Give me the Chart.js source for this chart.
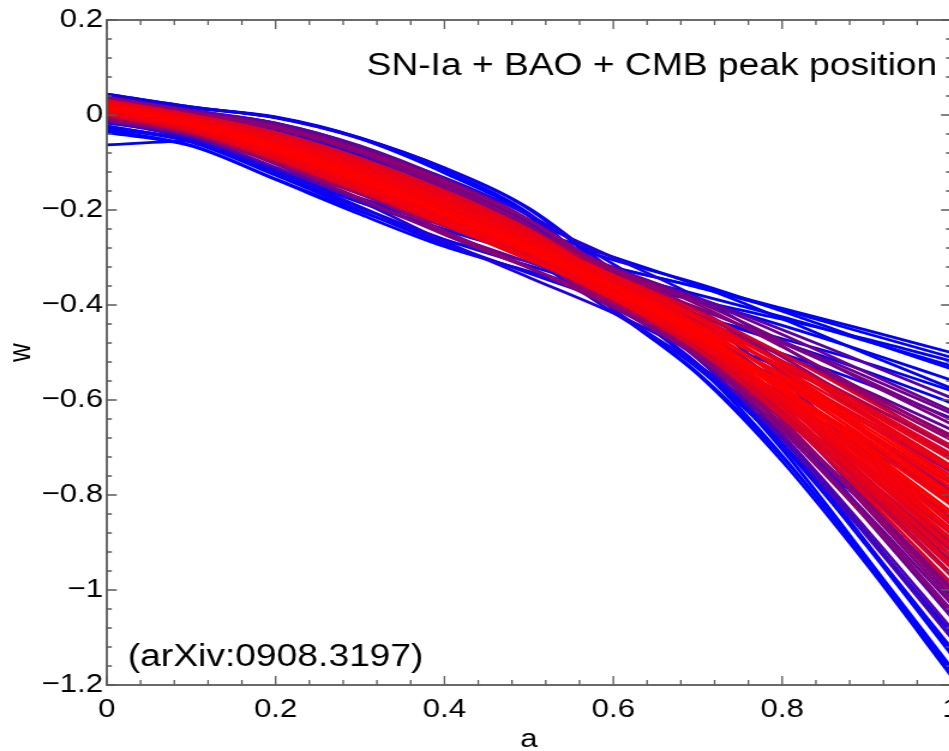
<!DOCTYPE html>
<html>
<head>
<meta charset="utf-8">
<script src="https://cdn.jsdelivr.net/npm/chart.js@4/dist/chart.umd.min.js"></script>
<style>
html,body{margin:0;padding:0;background:#fff;overflow:hidden;width:949px;height:751px;}
#wrap{width:800px;height:751px;transform:scaleX(1.2);transform-origin:0 0;}
canvas{display:block;}
</style>
</head>
<body>
<div id="wrap"><canvas id="c" width="800" height="751"></canvas></div>
<script>
// ---- data ----
const aGrid = [0, 0.1, 0.2, 0.3, 0.4, 0.5, 0.6, 0.7, 0.8, 0.9, 1.0];
const xTickValues = [0, 0.2, 0.4, 0.6, 0.8, 1];
const yTickValues = [-1.2, -1, -0.8, -0.6, -0.4, -0.2, 0, 0.2];
const xTitle = 'a';
const yTitle = 'w';
const dataLabel = 'SN-Ia + BAO + CMB peak position';
const sourceLabel = '(arXiv:0908.3197)';

// most likely reconstructions (red)
const redCurves = [
  [0.018, -0.018, -0.07, -0.135, -0.207, -0.283, -0.365, -0.458, -0.565, -0.68, -0.80],
  [0.02, -0.015, -0.064, -0.127, -0.199, -0.276, -0.366, -0.463, -0.578, -0.705, -0.837],
  [0.023, -0.011, -0.057, -0.118, -0.19, -0.269, -0.366, -0.468, -0.592, -0.73, -0.874],
  [0.025, -0.008, -0.051, -0.11, -0.182, -0.262, -0.367, -0.474, -0.605, -0.755, -0.911],
  [0.028, -0.005, -0.044, -0.101, -0.173, -0.255, -0.367, -0.479, -0.619, -0.78, -0.948],
  [0.014, -0.022, -0.075, -0.139, -0.209, -0.282, -0.361, -0.449, -0.55, -0.658, -0.771],
  [0.009, -0.025, -0.079, -0.143, -0.211, -0.281, -0.356, -0.439, -0.534, -0.636, -0.742],
  [0.005, -0.029, -0.084, -0.147, -0.213, -0.28, -0.352, -0.43, -0.519, -0.614, -0.713],
  [0.023, -0.011, -0.059, -0.119, -0.187, -0.263, -0.347, -0.442, -0.554, -0.673, -0.796],
  [0.013, -0.025, -0.081, -0.151, -0.227, -0.303, -0.383, -0.474, -0.576, -0.687, -0.805],
  [0.028, -0.004, -0.046, -0.102, -0.17, -0.249, -0.348, -0.452, -0.581, -0.723, -0.87],
  [0.018, -0.018, -0.068, -0.134, -0.21, -0.289, -0.384, -0.484, -0.603, -0.737, -0.879],
  [0.014, -0.018, -0.068, -0.127, -0.191, -0.261, -0.338, -0.423, -0.523, -0.629, -0.738],
  [0.004, -0.032, -0.09, -0.159, -0.231, -0.301, -0.374, -0.455, -0.545, -0.643, -0.747],
  [0.023, -0.012, -0.055, -0.117, -0.193, -0.275, -0.385, -0.495, -0.63, -0.787, -0.953],
  [0.031, 0.0, -0.037, -0.091, -0.159, -0.241, -0.351, -0.464, -0.604, -0.763, -0.926],
  [0.006, -0.026, -0.078, -0.139, -0.201, -0.266, -0.337, -0.414, -0.503, -0.599, -0.696],
  [0.023, -0.011, -0.058, -0.118, -0.188, -0.265, -0.356, -0.454, -0.572, -0.701, -0.835],
  [0.017, -0.019, -0.072, -0.138, -0.212, -0.289, -0.374, -0.467, -0.574, -0.695, -0.821],
  [0.023, -0.011, -0.057, -0.117, -0.188, -0.266, -0.36, -0.461, -0.583, -0.716, -0.854],
  [0.021, -0.014, -0.06, -0.123, -0.197, -0.277, -0.376, -0.48, -0.607, -0.747, -0.895],
  [0.025, -0.008, -0.05, -0.109, -0.182, -0.263, -0.371, -0.481, -0.617, -0.77, -0.931],
  [0.018, -0.017, -0.067, -0.13, -0.199, -0.274, -0.355, -0.446, -0.552, -0.666, -0.784],
  [0.009, -0.026, -0.082, -0.148, -0.219, -0.291, -0.366, -0.451, -0.547, -0.65, -0.759],
  [0.009, -0.025, -0.078, -0.14, -0.205, -0.274, -0.348, -0.429, -0.523, -0.623, -0.726],
  [0.03, -0.002, -0.038, -0.093, -0.165, -0.248, -0.368, -0.484, -0.632, -0.805, -0.985],
  [0.025, -0.008, -0.048, -0.107, -0.182, -0.265, -0.379, -0.493, -0.636, -0.798, -0.97],
  [0.025, -0.009, -0.054, -0.113, -0.18, -0.257, -0.346, -0.442, -0.557, -0.684, -0.814],
  [0.014, -0.023, -0.077, -0.146, -0.223, -0.301, -0.388, -0.482, -0.592, -0.713, -0.843],
  [0.03, -0.002, -0.041, -0.096, -0.164, -0.244, -0.351, -0.46, -0.595, -0.749, -0.907],
  [0.02, -0.013, -0.061, -0.12, -0.184, -0.257, -0.339, -0.429, -0.536, -0.65, -0.766],
  [0.008, -0.029, -0.087, -0.157, -0.232, -0.305, -0.381, -0.466, -0.562, -0.666, -0.776],
  [0.026, -0.007, -0.049, -0.107, -0.177, -0.257, -0.358, -0.465, -0.596, -0.741, -0.891],
  [0.0, -0.035, -0.094, -0.161, -0.231, -0.298, -0.368, -0.444, -0.529, -0.62, -0.717],
  [0.031, 0.0, -0.037, -0.091, -0.16, -0.242, -0.355, -0.469, -0.612, -0.776, -0.945],
  [0.018, -0.018, -0.068, -0.133, -0.208, -0.286, -0.378, -0.477, -0.595, -0.723, -0.859]
];
const redLevel = [1.0, 1.0, 0.97, 0.93, 0.88, 1.0, 0.95, 0.9, 0.95, 0.95, 0.92, 0.92, 0.9, 0.9, 0.85, 0.88, 0.86, 0.97, 0.98, 0.97, 0.93, 0.92, 0.98, 0.95, 0.93, 0.84, 0.85,
                  0.95, 0.93, 0.9, 0.95, 0.9, 0.95, 0.86, 0.86, 0.95];

// intermediate reconstructions (purple)
const purpleCurves = [
  [0.034, 0.003, -0.028, -0.08, -0.152, -0.238, -0.368, -0.493, -0.655, -0.844, -1.041],
  [0.025, -0.007, -0.046, -0.105, -0.183, -0.268, -0.392, -0.51, -0.661, -0.839, -1.028],
  [0.037, 0.008, -0.022, -0.071, -0.138, -0.222, -0.348, -0.47, -0.629, -0.811, -0.999],
  [-0.007, -0.037, -0.095, -0.157, -0.218, -0.278, -0.34, -0.406, -0.48, -0.559, -0.641],
  [0.002, -0.028, -0.08, -0.138, -0.195, -0.256, -0.323, -0.393, -0.475, -0.563, -0.65],
  [-0.013, -0.046, -0.11, -0.18, -0.249, -0.31, -0.371, -0.435, -0.505, -0.581, -0.662],
  [0.016, -0.02, -0.07, -0.137, -0.218, -0.299, -0.403, -0.509, -0.637, -0.782, -0.939],
  [0.036, 0.005, -0.028, -0.078, -0.141, -0.222, -0.331, -0.443, -0.583, -0.742, -0.902],
  [-0.002, -0.039, -0.102, -0.175, -0.252, -0.322, -0.392, -0.471, -0.557, -0.65, -0.751],
  [0.022, -0.01, -0.054, -0.11, -0.17, -0.241, -0.322, -0.412, -0.519, -0.634, -0.748],
  [0.008, -0.03, -0.089, -0.162, -0.244, -0.321, -0.406, -0.498, -0.603, -0.72, -0.847],
  [0.031, 0.0, -0.036, -0.09, -0.16, -0.243, -0.359, -0.476, -0.623, -0.791, -0.965],
  [-0.001, -0.035, -0.093, -0.16, -0.228, -0.293, -0.361, -0.435, -0.518, -0.608, -0.702],
  [0.034, 0.004, -0.026, -0.078, -0.152, -0.24, -0.377, -0.505, -0.673, -0.872, -1.08],
  [-0.011, -0.039, -0.097, -0.156, -0.212, -0.267, -0.326, -0.385, -0.452, -0.523, -0.595],
  [0.029, -0.004, -0.046, -0.102, -0.164, -0.24, -0.327, -0.425, -0.541, -0.666, -0.791],
  [0.028, -0.004, -0.042, -0.099, -0.174, -0.258, -0.38, -0.498, -0.649, -0.823, -1.007],
  [0.038, 0.01, -0.017, -0.065, -0.134, -0.221, -0.357, -0.484, -0.652, -0.851, -1.056],
  [0.032, 0.002, -0.028, -0.081, -0.157, -0.245, -0.385, -0.513, -0.683, -0.886, -1.10],
  [0.007, -0.023, -0.073, -0.13, -0.188, -0.252, -0.323, -0.399, -0.488, -0.583, -0.678],
  [-0.007, -0.04, -0.1, -0.167, -0.234, -0.297, -0.361, -0.429, -0.505, -0.587, -0.674],
  [-0.011, -0.042, -0.102, -0.166, -0.228, -0.286, -0.346, -0.408, -0.477, -0.551, -0.628],
  [0.014, -0.022, -0.075, -0.143, -0.222, -0.301, -0.394, -0.493, -0.61, -0.741, -0.881],
  [0.03, -0.003, -0.043, -0.098, -0.163, -0.241, -0.338, -0.442, -0.57, -0.708, -0.849],
  [0.015, -0.016, -0.064, -0.121, -0.181, -0.249, -0.326, -0.41, -0.509, -0.615, -0.721],
  [0.035, 0.005, -0.026, -0.077, -0.147, -0.232, -0.36, -0.482, -0.641, -0.827, -1.02],
  [0.022, -0.012, -0.055, -0.117, -0.196, -0.28, -0.396, -0.509, -0.65, -0.816, -0.992],
  [0.029, -0.003, -0.038, -0.094, -0.17, -0.256, -0.384, -0.507, -0.665, -0.85, -1.045],
  [-0.004, -0.033, -0.087, -0.145, -0.201, -0.259, -0.322, -0.387, -0.462, -0.542, -0.622],
  [0.008, -0.031, -0.091, -0.165, -0.245, -0.321, -0.399, -0.488, -0.586, -0.693, -0.809],
  [0.037, 0.006, -0.025, -0.075, -0.139, -0.221, -0.337, -0.453, -0.6, -0.769, -0.941],
  [0.0, -0.032, -0.088, -0.151, -0.215, -0.279, -0.347, -0.42, -0.503, -0.592, -0.684],
  [0.018, -0.017, -0.066, -0.131, -0.209, -0.289, -0.391, -0.495, -0.62, -0.764, -0.917]
];
const purpleLevel = [0.47, 0.43, 0.47, 0.47, 0.47, 0.38, 0.5, 0.47, 0.53, 0.53, 0.5, 0.68, 0.68, 0.34, 0.34, 0.53, 0.58, 0.38, 0.3, 0.53, 0.58, 0.43, 0.64, 0.64, 0.58, 0.53, 0.52,
                     0.53, 0.43, 0.56, 0.56, 0.6, 0.62];

// least likely reconstructions (blue)
const blueCurves = [
  [0.042, 0.015, -0.005, -0.05, -0.122, -0.213, -0.37, -0.511, -0.704, -0.931, -1.17],
  [0.036, 0.008, -0.018, -0.068, -0.145, -0.236, -0.39, -0.529, -0.717, -0.939, -1.175],
  [0.029, -0.002, -0.033, -0.089, -0.171, -0.262, -0.41, -0.543, -0.72, -0.933, -1.162],
  [0.043, 0.016, -0.004, -0.048, -0.117, -0.207, -0.358, -0.494, -0.679, -0.90, -1.13],
  [0.031, 0.001, -0.03, -0.084, -0.162, -0.251, -0.393, -0.524, -0.697, -0.903, -1.121],
  [0.037, 0.008, -0.018, -0.067, -0.139, -0.227, -0.369, -0.499, -0.673, -0.88, -1.096],
  [-0.027, -0.053, -0.115, -0.175, -0.227, -0.273, -0.32, -0.363, -0.41, -0.46, -0.51],
  [-0.037, -0.065, -0.135, -0.203, -0.263, -0.309, -0.352, -0.391, -0.43, -0.472, -0.518],
  [-0.017, -0.042, -0.098, -0.154, -0.203, -0.252, -0.305, -0.355, -0.413, -0.475, -0.534],
  [-0.032, -0.064, -0.136, -0.209, -0.277, -0.329, -0.377, -0.424, -0.471, -0.522, -0.58],
  [-0.006, -0.032, -0.084, -0.137, -0.186, -0.24, -0.299, -0.359, -0.429, -0.503, -0.575],
  [-0.023, -0.057, -0.127, -0.201, -0.273, -0.331, -0.386, -0.443, -0.502, -0.566, -0.638],
  [0.002, -0.038, -0.103, -0.181, -0.266, -0.342, -0.417, -0.504, -0.598, -0.70, -0.813],
  [0.038, 0.008, -0.025, -0.073, -0.132, -0.211, -0.314, -0.423, -0.56, -0.711, -0.861],
  [0.016, -0.02, -0.068, -0.135, -0.219, -0.302, -0.416, -0.526, -0.662, -0.823, -0.997],
  [0.02, -0.009, -0.051, -0.102, -0.155, -0.222, -0.30, -0.384, -0.486, -0.595, -0.70],
  [0.044, 0.017, -0.005, -0.048, -0.112, -0.198, -0.337, -0.466, -0.639, -0.843, -1.051],
  [-0.014, -0.05, -0.118, -0.193, -0.269, -0.333, -0.395, -0.462, -0.533, -0.61, -0.696],
  [-0.063, -0.055, -0.112, -0.178, -0.233, -0.281, -0.322, -0.362, -0.407, -0.453, -0.50],
  [-0.028, -0.056, -0.12, -0.184, -0.24, -0.287, -0.334, -0.378, -0.425, -0.476, -0.528],
  [0.044, 0.017, -0.006, -0.049, -0.111, -0.196, -0.328, -0.454, -0.621, -0.815, -1.012],
  [0.037, 0.009, -0.017, -0.066, -0.14, -0.229, -0.378, -0.511, -0.691, -0.907, -1.135],
  [-0.025, -0.054, -0.118, -0.183, -0.242, -0.293, -0.343, -0.391, -0.443, -0.499, -0.558],
  [0.024, -0.008, -0.046, -0.106, -0.188, -0.276, -0.409, -0.533, -0.693, -0.884, -1.088],
  [-0.024, -0.056, -0.124, -0.195, -0.262, -0.317, -0.37, -0.423, -0.479, -0.54, -0.606],
  [0.03, 0.0, -0.03, -0.085, -0.167, -0.258, -0.41, -0.546, -0.729, -0.946, -1.18]
];
const blueLevel = [0, 0, 0, 0, 0.05, 0.1, 0, 0, 0, 0, 0, 0.05, 0.12, 0.12, 0.08, 0.12, 0.05, 0.08, 0, 0, 0.05, 0, 0, 0.05, 0, 0];

// ---- chart ----
const FONT = "'Liberation Sans', Arial, Helvetica, sans-serif";
const levelColor = L => `rgb(${Math.round(255 * L)},0,${Math.round(255 * (1 - L))})`;

const datasets = [];
function addGroup(curves, levels) {
  const idx = curves.map((_, i) => i).sort((p, q) => levels[q] - levels[p]);
  idx.forEach(i => {
    datasets.push({
      data: aGrid.map((a, j) => ({ x: a, y: curves[i][j] })),
      borderColor: levelColor(levels[i]),
      borderWidth: 2.8,
      pointRadius: 0,
      fill: false,
      cubicInterpolationMode: 'monotone'
    });
  });
}
// index 0 is drawn last (on top): red, then purple, then blue underneath
addGroup(redCurves, redLevel);
addGroup(purpleCurves, purpleLevel);
addGroup(blueCurves, blueLevel);

const fmt = v => String(Math.round(v * 10) / 10).replace('-', '\u2212');

const framePlugin = {
  id: 'frame',
  afterDatasetsDraw(chart) {
    const { ctx, chartArea: { left, right, top, bottom }, scales: { x, y } } = chart;
    ctx.save();
    ctx.strokeStyle = '#5a5a5a';
    ctx.lineWidth = 1.3;
    ctx.beginPath();
    // x ticks (major every 0.2, 4 minor between)
    for (let k = 0; k < xTickValues.length; k++) {
      const v0 = xTickValues[k];
      for (let m = 0; m < 5; m++) {
        if (k === xTickValues.length - 1 && m > 0) break;
        const v = v0 + m * (0.2 / 5);
        const px = x.getPixelForValue(v);
        const len = m === 0 ? 9 : 5;
        ctx.moveTo(px, bottom); ctx.lineTo(px, bottom - len);
        ctx.moveTo(px, top); ctx.lineTo(px, top + len);
      }
    }
    // y ticks
    for (let k = 0; k < yTickValues.length; k++) {
      const v0 = yTickValues[k];
      for (let m = 0; m < 5; m++) {
        if (k === yTickValues.length - 1 && m > 0) break;
        const v = v0 + m * (0.2 / 5);
        const py = y.getPixelForValue(v);
        const len = m === 0 ? 8.3 : 4.2;
        ctx.moveTo(left, py); ctx.lineTo(left + len, py);
        ctx.moveTo(right, py); ctx.lineTo(right - len, py);
      }
    }
    ctx.stroke();
    ctx.lineWidth = 1.8;
    ctx.strokeRect(left, top, right - left, bottom - top);
    // annotations
    ctx.fillStyle = '#000';
    ctx.font = `31px ${FONT}`;
    ctx.textBaseline = 'alphabetic';
    ctx.textAlign = 'right';
    ctx.fillText(dataLabel, 781, 75);
    ctx.textAlign = 'left';
    ctx.fillText(sourceLabel, 106.5, 666);
    ctx.restore();
  }
};

new Chart(document.getElementById('c'), {
  type: 'line',
  data: { datasets },
  options: {
    responsive: false,
    animation: false,
    devicePixelRatio: 1,
    events: [],
    layout: { padding: { left: 0, top: 20, right: 7.5, bottom: 0 } },
    plugins: { legend: { display: false }, tooltip: { enabled: false } },
    scales: {
      x: {
        type: 'linear', min: 0, max: 1,
        afterBuildTicks: s => { s.ticks = xTickValues.map(v => ({ value: v })); },
        afterFit: s => { s.height = 66; s.paddingLeft = 0; s.paddingRight = 0; },
        ticks: { callback: fmt, color: '#000', font: { family: FONT, size: 26 }, padding: 9, maxRotation: 0, autoSkip: false },
        grid: { display: false, drawTicks: false },
        border: { display: false },
        title: { display: true, text: xTitle, color: '#000', font: { family: FONT, size: 26, lineHeight: 1 }, padding: { top: 0, bottom: -2 } }
      },
      y: {
        type: 'linear', min: -1.2, max: 0.2,
        afterBuildTicks: s => { s.ticks = yTickValues.map(v => ({ value: v })); },
        afterFit: s => { s.width = 89; s.paddingTop = 0; s.paddingBottom = 0; },
        ticks: { callback: fmt, color: '#000', font: { family: FONT, size: 26 }, padding: 3, autoSkip: false },
        grid: { display: false, drawTicks: false },
        border: { display: false },
        title: { display: true, text: yTitle, color: '#000', font: { family: FONT, size: 26, lineHeight: 1 }, padding: { top: 4.5, bottom: 0 } }
      }
    }
  },
  plugins: [framePlugin]
});
</script>
</body>
</html>
